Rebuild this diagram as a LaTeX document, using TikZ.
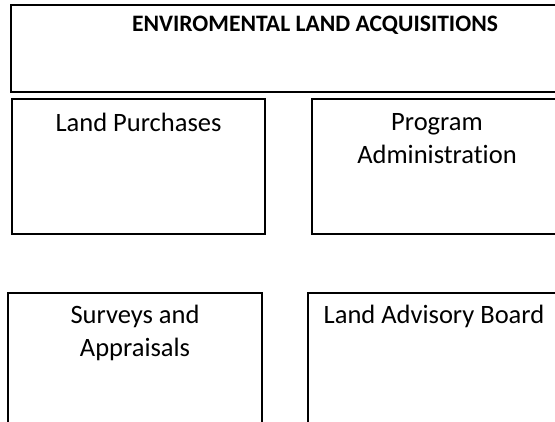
\documentclass[tikz,border=0pt]{standalone}
\usepackage{fontspec}
\setmainfont{Carlito}[Ligatures=NoCommon]
\usetikzlibrary{positioning}
\begin{document}
\begin{tikzpicture}[x=1pt, y=-1pt,
    box/.style={draw=black, line width=2pt, inner sep=0pt, anchor=north west},
    lbl/.style={anchor=north, inner sep=0pt, align=center, font=\fontsize{26.5}{33}\selectfont}]
    \useasboundingbox (0,0) rectangle (555,421);
    \clip (0,0) rectangle (555,421);

    % Header
    \node[box, minimum width=608pt, minimum height=87pt] (head) at (10,4) {};
    \node[lbl, font=\fontsize{23.6}{33}\selectfont\bfseries, below=12pt of head.north] (headT) {ENVIROMENTAL LAND ACQUISITIONS};

    % Upper row
    \node[box, minimum width=253pt, minimum height=135pt] (purch) at (11,98) {};
    \node[lbl, below=15pt of purch.north] (purchT) {Land Purchases};
    \node[box, minimum width=250pt, minimum height=135pt] (admin) at (311,98) {};
    \node[lbl, below=15pt of admin.north] (adminT) {Program\\Administration};

    % Lower row
    \node[box, minimum width=254pt, minimum height=130pt] (survey) at (7,292) {};
    \node[lbl, below=13pt of survey.north] (surveyT) {Surveys and\\Appraisals};
    \node[box, minimum width=252pt, minimum height=130pt] (board) at (307,292) {};
    \node[lbl, below=13pt of board.north] (boardT) {Land Advisory Board};
\end{tikzpicture}
\end{document}
